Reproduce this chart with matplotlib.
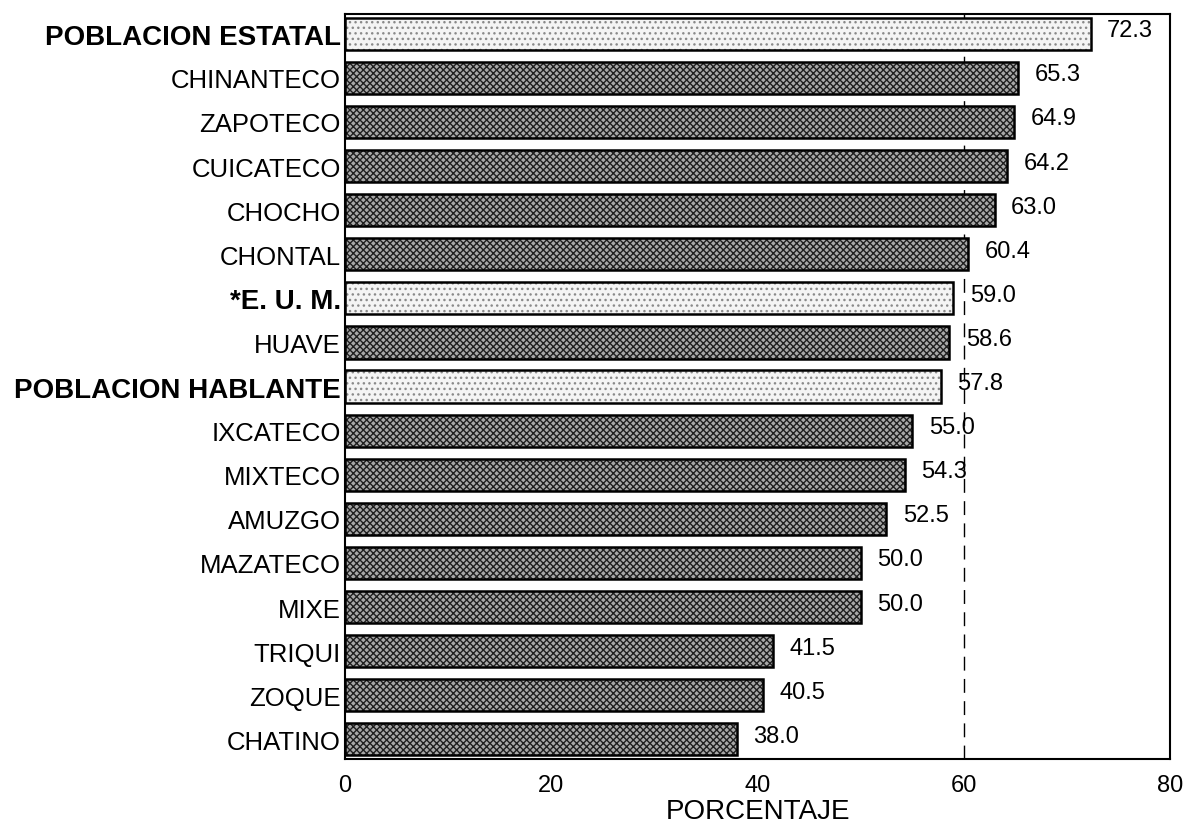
import matplotlib
matplotlib.use("Agg")
import matplotlib.pyplot as plt

# data (top to bottom)
grupos = ["POBLACION ESTATAL", "CHINANTECO", "ZAPOTECO", "CUICATECO", "CHOCHO", "CHONTAL",
          "*E. U. M.", "HUAVE", "POBLACION HABLANTE", "IXCATECO", "MIXTECO", "AMUZGO",
          "MAZATECO", "MIXE", "TRIQUI", "ZOQUE", "CHATINO"]
valores = [72.3, 65.3, 64.9, 64.2, 63.0, 60.4, 59.0, 58.6, 57.8, 55.0, 54.3, 52.5,
           50.0, 50.0, 41.5, 40.5, 38.0]
referencia = {"POBLACION ESTATAL", "*E. U. M.", "POBLACION HABLANTE"}
xticks = [0, 20, 40, 60, 80]

plt.rcParams["font.family"] = ["Liberation Sans", "DejaVu Sans"]
plt.rcParams["hatch.linewidth"] = 1.0
fig = plt.figure(figsize=(11.84, 8.29), dpi=100)
ax = fig.add_axes([0.2914, 0.083, 0.6968, 0.899])

ax.axvline(60, color="black", lw=1.0, ls=(0, (10, 6)), zorder=0)
for i, (g, v) in enumerate(zip(grupos, valores)):
    if g in referencia:
        ax.barh(i, v, height=0.73, color="#f4f4f4", edgecolor="#8a8a8a", hatch="...", lw=0, zorder=2)
    else:
        ax.barh(i, v, height=0.73, color="#a8a8a8", edgecolor="#202020", hatch="xxxxx", lw=0, zorder=2)
    ax.barh(i, v, height=0.73, fill=False, edgecolor="black", lw=1.8, zorder=3)
    ax.text(v + 1.6, i - 0.08, f"{v:.1f}", va="center", ha="left", fontsize=17)

ax.set_ylim(16.45, -0.45)
ax.set_xlim(0, 80)
ax.set_yticks(range(len(grupos)))
ax.set_yticklabels(grupos, fontsize=18.5)
for lab in ax.get_yticklabels():
    if lab.get_text() in referencia:
        lab.set_fontweight("bold")
        lab.set_fontsize(20)
ax.tick_params(axis="y", length=0, pad=3)
ax.set_xticks(xticks)
ax.set_xticklabels([str(t) for t in xticks], fontsize=17)
ax.tick_params(axis="x", length=0, pad=11)
ax.set_xlabel("PORCENTAJE", fontsize=20, labelpad=1)
for s in ax.spines.values():
    s.set_linewidth(1.5)

fig.savefig("out.png", dpi=100, facecolor="white")
